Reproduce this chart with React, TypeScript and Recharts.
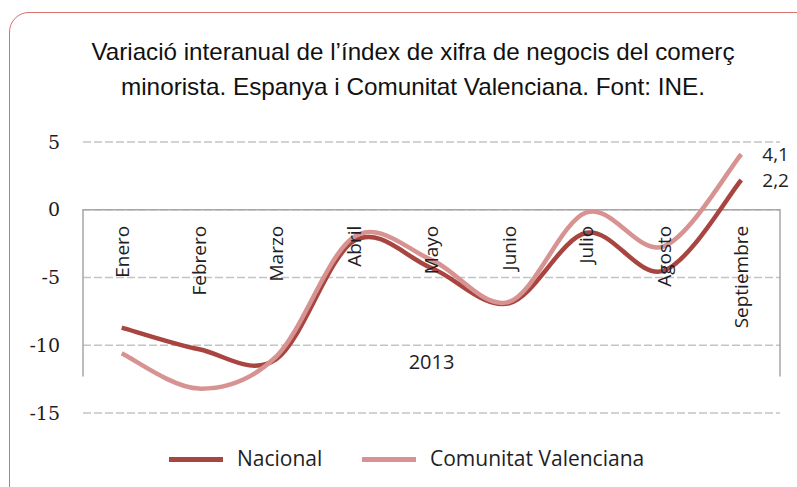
import { LineChart, Line, XAxis, YAxis, CartesianGrid, ReferenceDot, ReferenceArea, LabelList } from "recharts";

const months = ["Enero", "Febrero", "Marzo", "Abril", "Mayo", "Junio", "Julio", "Agosto", "Septiembre"];
const nacional = [-8.7, -10.3, -11.0, -2.3, -4.3, -6.9, -1.7, -4.5, 2.2];
const comunitat = [-10.6, -13.2, -10.8, -2.0, -3.7, -6.8, -0.2, -2.7, 4.1];
const yTicks = [-15, -10, -5, 0, 5];
const yearLabel = "2013";
const titleLines = [
  "Variació interanual de l’índex de xifra de negocis del comerç",
  "minorista. Espanya i Comunitat Valenciana. Font: INE.",
];
// bottom of the category box under the zero line (Excel multi-level axis)
const axisBoxBottom = -12.3;

const DARK = "#A94541";
const LIGHT = "#D79391";
const TEXT = "#1e1e24";
const SANS = "'Open Sans', sans-serif";

const data = months.map((m, i) => ({ month: m, nacional: nacional[i], comunitat: comunitat[i] }));

// Excel-like smoothed line (Catmull-Rom as cubic bezier)
const excelSmooth = (context: any) => {
  let pts: [number, number][] = [];
  return {
    areaStart() {},
    areaEnd() {},
    lineStart() {
      pts = [];
    },
    lineEnd() {
      if (!pts.length) return;
      context.moveTo(pts[0][0], pts[0][1]);
      for (let i = 0; i < pts.length - 1; i++) {
        const p0 = pts[i - 1] || pts[i];
        const p1 = pts[i];
        const p2 = pts[i + 1];
        const p3 = pts[i + 2] || p2;
        context.bezierCurveTo(
          p1[0] + (p2[0] - p0[0]) / 6,
          p1[1] + (p2[1] - p0[1]) / 6,
          p2[0] - (p3[0] - p1[0]) / 6,
          p2[1] - (p3[1] - p1[1]) / 6,
          p2[0],
          p2[1]
        );
      }
    },
    point(x: number, y: number) {
      pts.push([x, y]);
    },
  };
};

const lastLabel = (props: any) => {
  const { x, y, value, index } = props;
  if (index !== months.length - 1) return null;
  return (
    <text x={x + 21} y={y} dy="0.35em" fontSize={19} fontFamily={SANS} fill={TEXT}>
      {String(value).replace(".", ",")}
    </text>
  );
};

export default function App() {
  return (
    <div style={{ position: "absolute", left: 0, top: 0, width: 797, height: 487, background: "#fff", overflow: "hidden" }}>
      <div
        style={{
          position: "absolute",
          left: 9,
          top: 12,
          width: 820,
          height: 500,
          border: "1.5px solid #D4706D",
          borderRadius: 20,
          boxSizing: "border-box",
        }}
      />
      {/* title: condensed look via textLength */}
      <svg style={{ position: "absolute", left: 0, top: 0 }} width={797} height={110}>
        <text
          x={413}
          y={60}
          textAnchor="middle"
          textLength={643}
          lengthAdjust="spacingAndGlyphs"
          fontFamily="'Liberation Sans', Arial, sans-serif"
          fontSize={24}
          fill="#111"
        >
          {titleLines[0]}
        </text>
        <text
          x={413}
          y={95}
          textAnchor="middle"
          textLength={584}
          lengthAdjust="spacingAndGlyphs"
          fontFamily="'Liberation Sans', Arial, sans-serif"
          fontSize={24}
          fill="#111"
        >
          {titleLines[1]}
        </text>
      </svg>

      <div style={{ position: "absolute", left: 0, top: 0 }}>
        <LineChart width={797} height={487} data={data} margin={{ top: 142, right: 17, bottom: 74, left: 23 }}>
          <CartesianGrid vertical={false} stroke="#C4C4C4" strokeDasharray="8 3" strokeWidth={1.5} />
          <XAxis dataKey="month" scale="band" hide />
          <YAxis
            type="number"
            domain={[-15, 5]}
            ticks={yTicks}
            width={60}
            axisLine={false}
            tickLine={false}
            tickSize={0}
            tickMargin={23}
            tick={{ fontSize: 19, fill: TEXT, fontFamily: "'DejaVu Serif', serif" }}
          />
          <ReferenceArea
            x1={months[0]}
            x2={months[months.length - 1]}
            y1={axisBoxBottom}
            y2={0}
            shape={(p: any) => (
              <path
                d={`M${p.x},${p.y + p.height}L${p.x},${p.y}L${p.x + p.width},${p.y}L${p.x + p.width},${p.y + p.height}`}
                fill="none"
                stroke="#A6A6A6"
                strokeWidth={1.5}
              />
            )}
          />
          {months.map((m) => (
            <ReferenceDot
              key={m}
              x={m}
              y={0}
              shape={(p: any) => (
                <text
                  x={p.cx}
                  y={p.cy}
                  transform={`rotate(-90 ${p.cx} ${p.cy})`}
                  textAnchor="end"
                  dx={-16}
                  dy="0.36em"
                  fontSize={19}
                  fontFamily={SANS}
                  fill={TEXT}
                >
                  {m}
                </text>
              )}
            />
          ))}
          <ReferenceDot
            x={months[4]}
            y={-11.25}
            shape={(p: any) => (
              <text x={p.cx} y={p.cy} dy="0.36em" textAnchor="middle" fontSize={20} fontFamily={SANS} fill={TEXT}>
                {yearLabel}
              </text>
            )}
          />
          <Line
            dataKey="nacional"
            name="Nacional"
            type={excelSmooth as any}
            stroke={DARK}
            strokeWidth={4.5}
            dot={false}
            isAnimationActive={false}
          >
            <LabelList dataKey="nacional" content={lastLabel} />
          </Line>
          <Line
            dataKey="comunitat"
            name="Comunitat Valenciana"
            type={excelSmooth as any}
            stroke={LIGHT}
            strokeWidth={4.5}
            dot={false}
            isAnimationActive={false}
          >
            <LabelList dataKey="comunitat" content={lastLabel} />
          </Line>
        </LineChart>
      </div>

      <div style={{ position: "absolute", left: 169, top: 457, width: 54, height: 5, background: DARK }} />
      <div style={{ position: "absolute", left: 237, top: 444, fontFamily: SANS, fontSize: 21, lineHeight: "28px", color: TEXT }}>
        Nacional
      </div>
      <div style={{ position: "absolute", left: 362, top: 457, width: 54, height: 5, background: LIGHT }} />
      <div style={{ position: "absolute", left: 430, top: 444, fontFamily: SANS, fontSize: 21, lineHeight: "28px", color: TEXT }}>
        Comunitat Valenciana
      </div>
    </div>
  );
}
